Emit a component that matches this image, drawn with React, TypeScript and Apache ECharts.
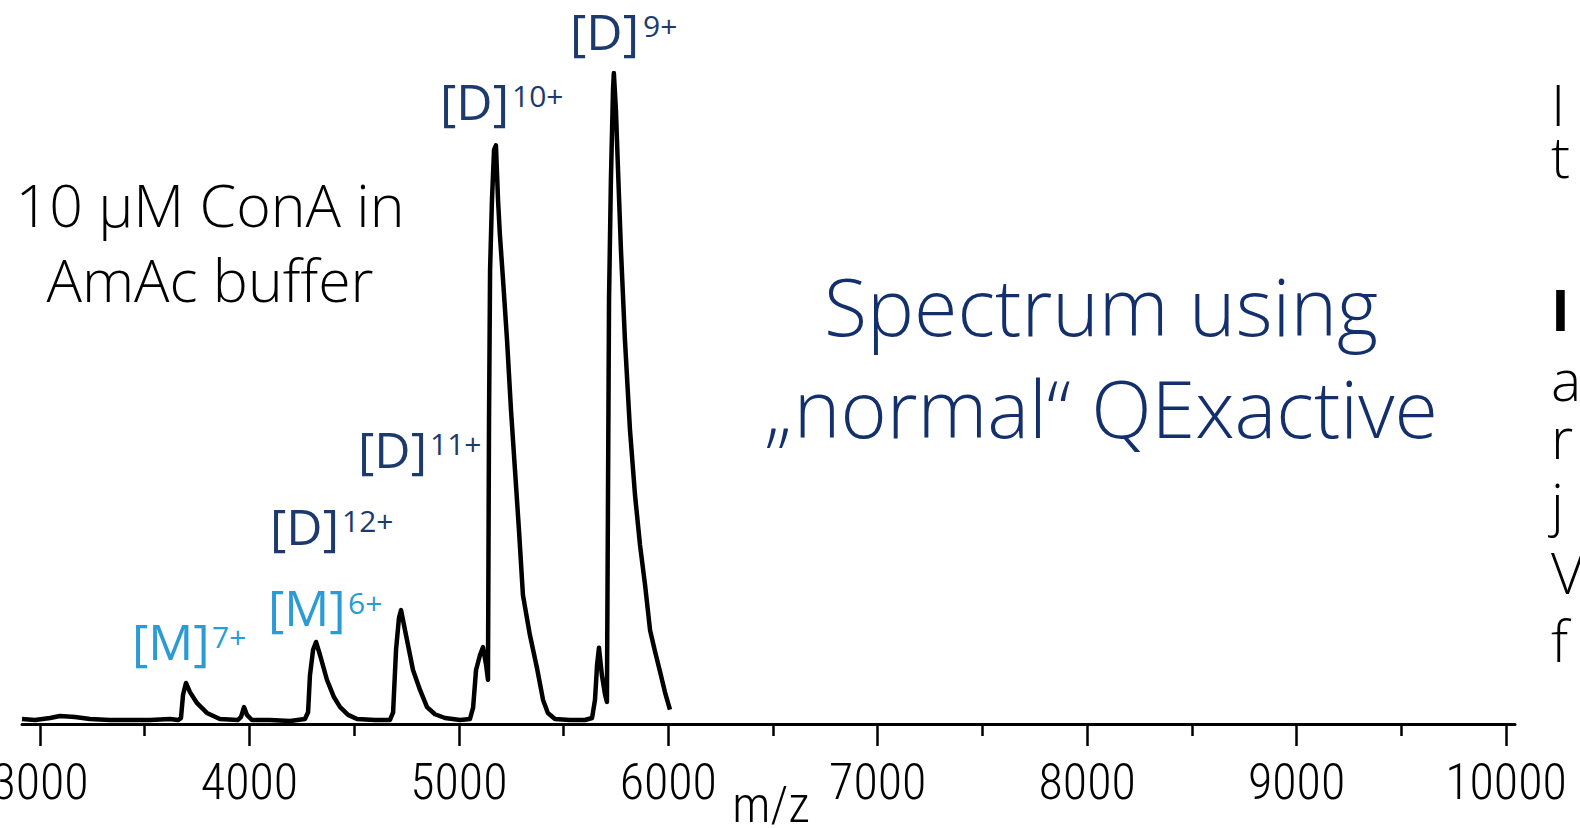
import React, { useEffect, useRef } from "react";
import * as echarts from "echarts";

// m/z values of the traced spectrum
const mz = [
  2914, 2976, 3048, 3095, 3167, 3239, 3334, 3430, 3525, 3621, 3659,
  3673, 3683, 3697, 3716, 3750, 3797, 3859, 3945,
  3960, 3974, 3988, 4012, 4098, 4194, 4265,
  4280, 4289, 4304, 4318, 4337, 4370, 4404, 4433, 4471, 4514, 4600, 4671,
  4686, 4700, 4714, 4724, 4743, 4781, 4815, 4848, 4886, 4934, 5006, 5053,
  5068, 5082, 5101, 5115, 5130, 5139,
  5144, 5149, 5158, 5168, 5177, 5187, 5196, 5211, 5230, 5249, 5268, 5287, 5306, 5339, 5373, 5402, 5425, 5459, 5531, 5602,
  5636, 5650, 5660, 5669, 5683, 5698, 5707,
  5712, 5717, 5726, 5736, 5740, 5750, 5760, 5774, 5793, 5817, 5841, 5865, 5889, 5913, 5937, 5961, 5984, 6008,
];
// relative intensity (%)
const intensity = [
  0.77, 0.61, 0.92, 1.23, 1.08, 0.77, 0.61, 0.61, 0.61, 0.77, 0.61,
  0.9, 4.5, 6.3, 4.9, 3.2, 1.7, 0.77, 0.61,
  1.1, 2.6, 1.4, 0.61, 0.61, 0.46, 0.77,
  1.8, 7.5, 11.4, 12.6, 10.6, 6.8, 4.1, 2.6, 1.4, 0.77, 0.61, 0.61,
  1.8, 11.4, 16.3, 17.5, 14.4, 8.3, 5.2, 2.6, 1.5, 0.92, 0.61, 0.77,
  2.5, 8.3, 10.6, 11.8, 9.1, 6.8,
  46.7, 69.7, 80.5, 88.2, 88.9, 80.5, 75.1, 68.2, 59.0, 48.2, 39.0, 29.8, 19.8, 13.7, 8.6, 3.7, 1.7, 0.77, 0.61, 0.61,
  0.92, 3.7, 9.1, 11.7, 7.5, 4.5, 3.4,
  34.4, 65.1, 83.6, 97.4, 100, 94.3, 85.1, 72.8, 59.0, 45.2, 35.2, 27.5, 21.4, 14.4, 11.1, 8.0, 4.9, 2.2,
];

const majorTicks = [3000, 4000, 5000, 6000, 7000, 8000, 9000, 10000];
const minorTicks = [3500, 4500, 5500, 6500, 7500, 8500, 9500];
const axisTitle = "m/z";

const ionBase = ["[D]", "[D]", "[D]", "[D]", "[M]", "[M]"];
const ionCharge = ["9+", "10+", "11+", "12+", "6+", "7+"];

const sampleLines = ["10 μM ConA in", "AmAc buffer"];
const noteLines = ["Spectrum using", "„normal“ QExactive"];
const edgeLetters = ["I", "t", "I", "a", "r", "j", "V", "f"];

const DARK = "#1d3a6c";
const LIGHT = "#2a9bd4";
const NAVY = "#132f6c";
const FONT = "'Open Sans', 'Noto Sans', sans-serif";
const TICKFONT = "'Roboto Condensed', 'Liberation Sans Narrow', 'DejaVu Sans Condensed', sans-serif";

export default function App() {
  const ref = useRef<HTMLDivElement>(null);

  useEffect(() => {
    if (!ref.current) return;
    const chart = echarts.init(ref.current, undefined, { renderer: "svg" });

    const txt = (
      text: string,
      x: number,
      y: number,
      size: number,
      fill: string,
      align = "left",
      weight: any = 400,
      lineHeight?: number,
      family = FONT
    ) => ({
      type: "text",
      x,
      y,
      silent: true,
      style: {
        text,
        fill,
        fontSize: size,
        fontFamily: family,
        fontWeight: weight,
        align,
        verticalAlign: "middle",
        lineHeight: lineHeight ?? size,
      },
    });

    // label placement: [baseLeft, baseY, supLeft, supY, colour]
    const labelPos: [number, number, number, number, string][] = [
      [570, 31, 643, 25, DARK],
      [440, 101, 512, 95, DARK],
      [358, 449, 430, 443, DARK],
      [270, 526, 342, 520, DARK],
      [268, 607, 348, 602, LIGHT],
      [132, 641, 212, 636, LIGHT],
    ];

    const graphics: any[] = [];
    labelPos.forEach((p, i) => {
      graphics.push(txt(ionBase[i], p[0], p[1], 50, p[4], "left", 400, 44));
      graphics.push(txt(ionCharge[i], p[2], p[3], 30, p[4], "left", 400, 24));
    });
    graphics.push(txt(sampleLines[0], 210, 204, 59, "#000", "center", 300));
    graphics.push(txt(sampleLines[1], 210, 279, 59, "#000", "center", 300));
    graphics.push(txt(noteLines[0], 1101, 305, 79, NAVY, "center", 300));
    graphics.push(txt(noteLines[1], 1101, 407, 79, NAVY, "center", 300));
    const edgeY = [104, 156, 309, 379, 437, 503, 572, 640];
    edgeLetters.forEach((l, i) => {
      graphics.push(txt(l, 1551, edgeY[i], 57, "#000", "left", i === 2 ? 700 : 300, 44));
    });
    graphics.push(txt(axisTitle, 771, 805, 50, "#000", "center", 300, 40, TICKFONT));

    chart.setOption({
      animation: false,
      backgroundColor: "#fff",
      grid: { left: 22, right: 65, top: 73, bottom: 104, containLabel: false, outerBoundsMode: "none" },
      xAxis: [
        {
          type: "value",
          min: 2914,
          max: 10043,
          position: "bottom",
          axisLine: { show: true, onZero: false, lineStyle: { color: "#000", width: 3 } },
          axisTick: { show: true, customValues: majorTicks, length: 22, lineStyle: { color: "#000", width: 2.5 } },
          axisLabel: {
            show: true,
            customValues: majorTicks,
            formatter: (v: number) => String(v),
            color: "#000",
            fontSize: 50,
            fontWeight: 300,
            fontFamily: TICKFONT,
            margin: 58,
            verticalAlign: "middle",
          },
          splitLine: { show: false },
        },
        {
          type: "value",
          min: 2914,
          max: 10043,
          position: "bottom",
          axisLine: { show: false, onZero: false },
          axisTick: { show: true, customValues: minorTicks, length: 12, lineStyle: { color: "#000", width: 2.5 } },
          axisLabel: { show: false },
          splitLine: { show: false },
        },
      ],
      yAxis: { type: "value", min: 0, max: 100, show: false },
      series: [
        {
          type: "line",
          xAxisIndex: 0,
          data: mz.map((m, i) => [m, intensity[i]]),
          showSymbol: false,
          lineStyle: { color: "#000", width: 4.5, join: "round" },
          silent: true,
        },
      ],
      graphic: graphics,
    });

    return () => chart.dispose();
  }, []);

  return <div ref={ref} style={{ position: "fixed", left: 0, top: 0, width: 1580, height: 828, background: "#fff" }} />;
}
